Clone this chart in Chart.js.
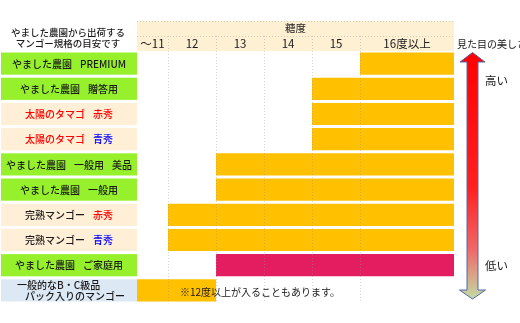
<!DOCTYPE html>
<html><head><meta charset="utf-8">
<script src="https://cdn.jsdelivr.net/npm/chart.js@4/dist/chart.umd.min.js"></script>
<style>html,body{margin:0;padding:0;background:#fff}#wrap{width:520px;height:323px;position:relative}</style>
</head><body><div id="wrap"><canvas id="c"></canvas></div>
<script>
// ---- data ----
const categories = [
  'やました農園　PREMIUM',
  'やました農園　贈答用',
  '太陽のタマゴ　赤秀',
  '太陽のタマゴ　青秀',
  'やました農園　一般用　美品',
  'やました農園　一般用',
  '完熟マンゴー　赤秀',
  '完熟マンゴー　青秀',
  'やました農園　ご家庭用',
  '一般的なB・C級品\nパック入りのマンゴー'
];
const rangeStart = [16, 15, 15, 15, 13, 13, 12, 12, 13, 11];
const rangeEnd   = [18, 18, 18, 18, 18, 18, 18, 18, 18, 13];
const columnLabels = ['～11', '12', '13', '14', '15', '16度以上'];
const columnBounds = [11.354, 12, 13, 14, 15, 16, 17.958];
const labelKinds = ['green','green','cream','cream','green','green','cream','cream','green','blue'];
const redWords = ['太陽のタマゴ', '赤秀'];
const blueWords = ['青秀'];
const headerLines = ['やました農園から出荷する', 'マンゴー規格の目安です'];
const axisTitle = '糖度';
const sideTitle = '見た目の美しさ';
const highLabel = '高い';
const lowLabel = '低い';
const footnote = '※12度以上が入ることもあります。';

// ---- styles ----
const ORANGE = '#FFC000', PINK = '#E31D60';
const barColors = categories.map((_, i) => i === 8 ? PINK : ORANGE);
const boxFill = {green: '#96F12C', cream: '#FFEFD6', blue: '#DCE8F4'};
const FONT = '"Noto Sans CJK JP", "Noto Sans", sans-serif';
const TEXT = '#1a1a1a';
const GRID = 'rgba(150,150,150,0.4)';

const gridValues = columnBounds.slice(1, -1);
const labelValues = columnBounds.slice(0, -1).map((b, i) => (b + columnBounds[i + 1]) / 2);
const isGrid = v => gridValues.some(g => Math.abs(g - v) < 1e-6);

function wordColor(w) {
  if (redWords.includes(w)) return '#FF0000';
  if (blueWords.includes(w)) return '#0000FF';
  return TEXT;
}

const decor = {
  id: 'decor',
  beforeDraw(chart) {
    const {ctx, chartArea: ca, scales: {x}} = chart;
    ctx.save();
    ctx.fillStyle = '#fff';
    ctx.fillRect(0, 0, chart.width, chart.height);
    ctx.fillStyle = '#FEF0D3';
    ctx.fillRect(ca.left, x.top, ca.right - ca.left, x.bottom - x.top);
    ctx.strokeStyle = GRID; ctx.lineWidth = 1; ctx.setLineDash([1, 2]);
    [x.top + 0.5, x.bottom - 15 + 0.5].forEach(yy => {
      ctx.beginPath(); ctx.moveTo(ca.left, yy); ctx.lineTo(ca.right, yy); ctx.stroke();
    });
    ctx.restore();
  },
  afterDraw(chart) {
    const {ctx, chartArea: ca} = chart;
    const meta = chart.getDatasetMeta(0);
    ctx.save();
    ctx.textBaseline = 'middle';
    meta.data.forEach((el, i) => {
      const h = el.height, yc = el.y;
      ctx.fillStyle = boxFill[labelKinds[i]];
      ctx.fillRect(1, yc - h / 2, ca.left - 1, h);
      ctx.font = '500 10px ' + FONT;
      const lines = categories[i].split('\n');
      if (lines.length > 1) {
        ctx.fillStyle = TEXT; ctx.textAlign = 'left';
        ctx.fillText(lines[0], 17, yc - 5);
        ctx.fillText(lines[1], 25, yc + 6);
        return;
      }
      const parts = lines[0].split('　');
      const gap = 8;
      const widths = parts.map(p => ctx.measureText(p).width);
      const total = widths.reduce((a, b) => a + b, 0) + gap * (parts.length - 1);
      let cx = 69 - total / 2;
      ctx.textAlign = 'left';
      parts.forEach((p, k) => {
        ctx.fillStyle = wordColor(p);
        ctx.fillText(p, cx, yc + 0.5);
        cx += widths[k] + gap;
      });
    });
    ctx.fillStyle = TEXT; ctx.textAlign = 'center';
    ctx.font = '500 9.5px ' + FONT;
    ctx.fillText(headerLines[0], 68, 32);
    ctx.fillText(headerLines[1], 68, 43);
    ctx.textAlign = 'left';
    ctx.font = '10px ' + FONT;
    ctx.fillText(sideTitle, ca.right + 3, 44.5);
    // arrow
    const ax = ca.right + 18.5;
    const tipT = ca.top + 1.5, baseT = ca.top + 11;
    const baseB = ca.bottom - 13, tipB = ca.bottom - 4;
    const sw = 5.5, hw = 12.5;
    const g = ctx.createLinearGradient(0, tipT, 0, tipB);
    g.addColorStop(0, '#FF0000');
    g.addColorStop(0.55, '#FF2020');
    g.addColorStop(0.8, '#F06868');
    g.addColorStop(1, '#C2DCA2');
    ctx.beginPath();
    ctx.moveTo(ax, tipT);
    ctx.lineTo(ax + hw, baseT);
    ctx.lineTo(ax + sw, baseT);
    ctx.lineTo(ax + sw, baseB);
    ctx.lineTo(ax + hw + 0.5, baseB);
    ctx.lineTo(ax, tipB);
    ctx.lineTo(ax - hw - 0.5, baseB);
    ctx.lineTo(ax - sw, baseB);
    ctx.lineTo(ax - sw, baseT);
    ctx.lineTo(ax - hw, baseT);
    ctx.closePath();
    ctx.fillStyle = g; ctx.fill();
    ctx.strokeStyle = '#5068B0'; ctx.lineWidth = 1; ctx.stroke();
    ctx.fillStyle = TEXT; ctx.font = '11.5px ' + FONT; ctx.textAlign = 'left';
    ctx.fillText(highLabel, ca.right + 31, 81);
    ctx.fillText(lowLabel, ca.right + 31, 266);
    ctx.font = '10px ' + FONT;
    ctx.fillText(footnote, 180, 292);
    ctx.restore();
  }
};

new Chart(document.getElementById('c'), {
  type: 'bar',
  data: {
    labels: categories,
    datasets: [{
      data: categories.map((_, i) => [rangeStart[i], rangeEnd[i]]),
      backgroundColor: barColors,
      borderWidth: 0,
      categoryPercentage: 1,
      barPercentage: 0.88
    }]
  },
  options: {
    indexAxis: 'y',
    responsive: true,
    maintainAspectRatio: false,
    animation: false,
    devicePixelRatio: 1,
    layout: {padding: {left: 137, right: 66, top: 21, bottom: 20}},
    plugins: {legend: {display: false}, tooltip: {enabled: false}},
    scales: {
      x: {
        position: 'top',
        min: columnBounds[0],
        max: columnBounds[columnBounds.length - 1],
        afterBuildTicks: s => {
          s.ticks = [...labelValues, ...gridValues].sort((a, b) => a - b).map(v => ({value: v}));
        },
        afterFit: s => { s.height = 30; },
        title: {display: true, text: axisTitle, color: TEXT, font: {family: FONT, size: 10.5}, padding: {top: 1, bottom: 0}},
        ticks: {
          autoSkip: false, maxRotation: 0, minRotation: 0, padding: -14.5,
          color: TEXT, font: {family: FONT, size: 11.5},
          callback: v => {
            const i = labelValues.findIndex(l => Math.abs(l - v) < 1e-6);
            return i >= 0 ? columnLabels[i] : '';
          }
        },
        grid: {
          z: 1, drawTicks: true, tickLength: 15, lineWidth: 1,
          color: c => (c.tick && isGrid(c.tick.value)) ? GRID : 'rgba(0,0,0,0)',
          tickColor: c => (c.tick && isGrid(c.tick.value)) ? GRID : 'rgba(0,0,0,0)',
          tickBorderDash: [1, 2]
        },
        border: {display: false, dash: [1, 2]}
      },
      y: {display: false}
    }
  },
  plugins: [decor]
});
</script>
</body></html>
